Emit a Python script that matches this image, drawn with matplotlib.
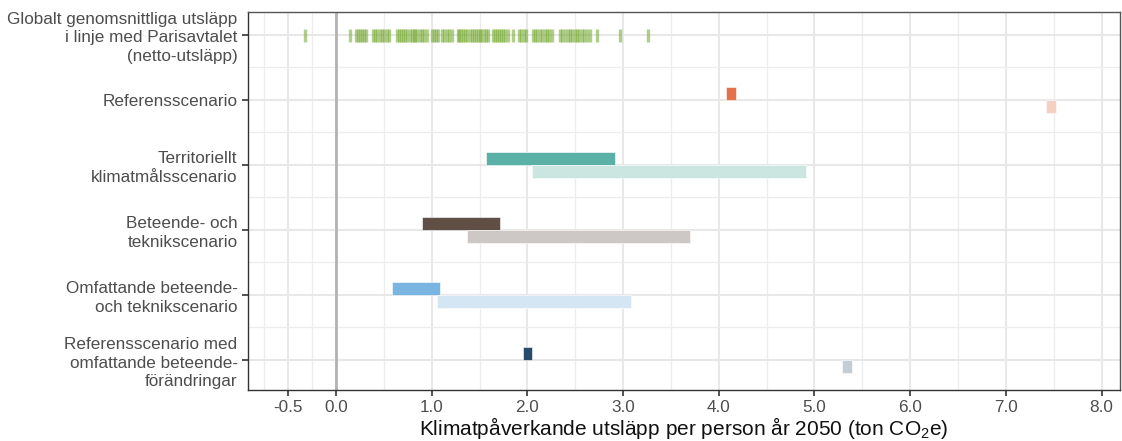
import matplotlib
matplotlib.use("Agg")
from matplotlib import pyplot as plt

plt.rcParams["font.family"] = ["Liberation Sans", "DejaVu Sans"]
plt.rcParams["mathtext.fontset"] = "custom"
plt.rcParams["mathtext.rm"] = "Liberation Sans"
plt.rcParams["mathtext.it"] = "Liberation Sans:italic"

# Kategorier (uppifrån och ned)
kategorier = [
    "Globalt genomsnittliga utsläpp\ni linje med Parisavtalet\n(netto-utsläpp)",
    "Referensscenario",
    "Territoriellt\nklimatmålsscenario",
    "Beteende- och\nteknikscenario",
    "Omfattande beteende-\noch teknikscenario",
    "Referensscenario med\nomfattande beteende-\nförändringar",
]

# Globala utsläpp i linje med Parisavtalet (streck)
paris = [-0.32, 0.15, 0.21, 0.23, 0.25, 0.27, 0.29, 0.31, 0.39, 0.41, 0.43, 0.46,
         0.48, 0.50, 0.53, 0.55, 0.64, 0.66, 0.68, 0.70, 0.72, 0.74, 0.77, 0.79,
         0.81, 0.83, 0.85, 0.88, 0.90, 0.92, 0.95, 1.00, 1.02, 1.05, 1.07, 1.11,
         1.13, 1.16, 1.18, 1.21, 1.27, 1.29, 1.31, 1.33, 1.35, 1.37, 1.40, 1.42,
         1.44, 1.46, 1.48, 1.50, 1.52, 1.55, 1.57, 1.59, 1.64, 1.66, 1.68, 1.70,
         1.72, 1.75, 1.77, 1.80, 1.85, 1.91, 1.93, 1.96, 1.99, 2.06, 2.08, 2.10,
         2.13, 2.15, 2.18, 2.20, 2.23, 2.26, 2.34, 2.36, 2.39, 2.42, 2.44, 2.47,
         2.50, 2.52, 2.54, 2.57, 2.59, 2.62, 2.65, 2.73, 2.97, 3.26]

# Scenarier: intervall (start, slut), mörk = övre stapel, ljus = undre stapel
mork_start = [4.08, 1.57, 0.90, 0.58, 1.95]
mork_slut = [4.18, 2.92, 1.71, 1.09, 2.05]
ljus_start = [7.42, 2.05, 1.37, 1.06, 5.29]
ljus_slut = [7.52, 4.91, 3.70, 3.08, 5.39]
mork_farg = ["#E4714A", "#5BB1A6", "#5F4F45", "#7AB4E1", "#284B6C"]
ljus_farg = ["#F5CFC2", "#CBE5E1", "#CDC8C5", "#D4E5F3", "#C4CDD3"]

fig = plt.figure(figsize=(11.22, 4.41), dpi=100)
ax = fig.add_axes([0.221, 0.116, 0.777, 0.857])

n = len(kategorier)
ypos = [n - i for i in range(n)]  # 6..1

# rutnät
xmaj = [-0.5, 0, 1, 2, 3, 4, 5, 6, 7, 8]
xmin = [-0.75, -0.25, 0.5, 1.5, 2.5, 3.5, 4.5, 5.5, 6.5, 7.5]
for x in xmaj:
    ax.axvline(x, color="#e8e8e8", lw=1.5, zorder=0)
for x in xmin:
    ax.axvline(x, color="#ededed", lw=0.9, zorder=0)
for y in ypos:
    ax.axhline(y, color="#e8e8e8", lw=1.5, zorder=0)
for y in ypos[:-1]:
    ax.axhline(y - 0.5, color="#ededed", lw=0.9, zorder=0)
ax.axvline(0, color="#b3b3b3", lw=2.0, zorder=1)

# Parisavtalet-streck
ax.vlines(paris, ypos[0] - 0.12, ypos[0] + 0.08, color="#7DAE3C", alpha=0.6, lw=2.4, zorder=2)

# scenariostaplar
for i in range(len(mork_start)):
    y = ypos[i + 1]
    ax.barh(y + 0.1, mork_slut[i] - mork_start[i], left=mork_start[i], height=0.2,
            color=mork_farg[i], edgecolor="white", linewidth=0.4, zorder=3)
    ax.barh(y - 0.1, ljus_slut[i] - ljus_start[i], left=ljus_start[i], height=0.2,
            color=ljus_farg[i], edgecolor="white", linewidth=0.4, zorder=3)

ax.set_xlim(-0.92, 8.19)
ax.set_ylim(0.54, 6.35)
ax.set_xticks(xmaj)
ax.set_xticklabels(["-0.5", "0.0", "1.0", "2.0", "3.0", "4.0", "5.0", "6.0", "7.0", "8.0"])
ax.set_yticks(ypos)
ax.set_yticklabels(kategorier, linespacing=1.3, multialignment="right")
ax.tick_params(axis="both", colors="#333333", labelcolor="#4d4d4d", labelsize=12.3, length=4, width=1.2)
ax.tick_params(axis="x", labelsize=12.3)

for s in ax.spines.values():
    s.set_color("#555555")
    s.set_linewidth(1.0)
ax.spines["left"].set_color("#333333")
ax.spines["bottom"].set_color("#333333")

ax.set_xlabel(r"Klimatpåverkande utsläpp per person år 2050 (ton CO$_2$e)", fontsize=15, color="#111111", labelpad=0)

fig.savefig("out.png", dpi=100)
